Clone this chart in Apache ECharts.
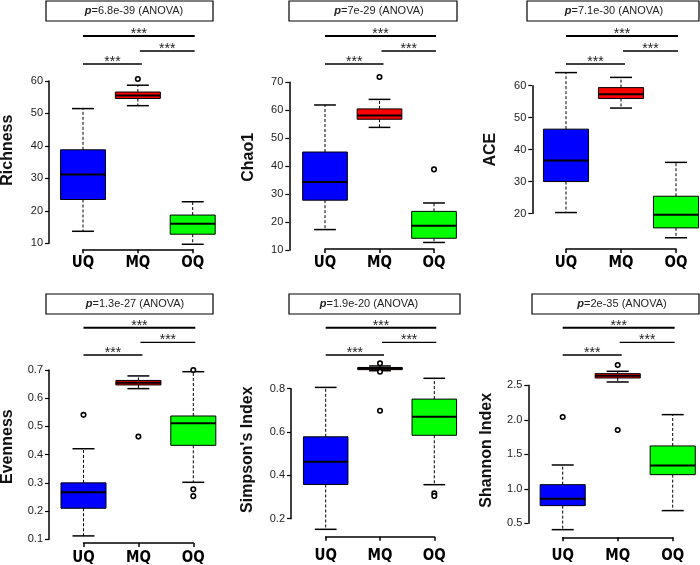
<!DOCTYPE html>
<html><head><meta charset="utf-8">
<script src="https://cdn.jsdelivr.net/npm/echarts@6/dist/echarts.min.js"></script>
<style>html,body{margin:0;padding:0;background:#fff}#c{width:700px;height:565px}</style>
</head><body><div id="c"></div>
<script>
// ---------- data ----------
const categories = ['UQ', 'MQ', 'OQ'];
const boxColors = ['#0000FF', '#FF0000', '#00FF00'];

// each box: [lower whisker, Q1, median, Q3, upper whisker] for UQ, MQ, OQ
const richnessBoxes = [[13.7, 23.5, 31.2, 38.8, 51.5], [52.4, 54.6, 55.5, 56.6, 58.7], [9.7, 12.8, 16.0, 18.7, 22.8]];
const richnessOutliers = [[], [60.6], []];
const chao1Boxes = [[17.4, 27.9, 34.4, 45.1, 61.9], [53.9, 56.8, 58.1, 60.5, 63.9], [12.8, 14.3, 18.8, 23.9, 26.9]];
const chao1Outliers = [[], [71.9], [38.9]];
const aceBoxes = [[20.3, 30.0, 36.6, 46.4, 64.1], [53.0, 56.0, 57.3, 59.4, 62.6], [12.4, 15.5, 19.6, 25.4, 36.0]];
const aceOutliers = [[], [], []];
const evennessBoxes = [[0.112, 0.210, 0.267, 0.300, 0.421], [0.634, 0.647, 0.655, 0.663, 0.679], [0.302, 0.433, 0.511, 0.537, 0.694]];
const evennessOutliers = [[0.541], [0.464], [0.700, 0.277, 0.253]];
const simpsonBoxes = [[0.151, 0.358, 0.463, 0.578, 0.806], [0.883, 0.888, 0.894, 0.898, 0.905], [0.357, 0.585, 0.671, 0.752, 0.848]];
const simpsonOutliers = [[], [0.917, 0.878, 0.698], [0.317, 0.305]];
const shannonBoxes = [[0.408, 0.756, 0.857, 1.060, 1.345], [2.548, 2.606, 2.640, 2.669, 2.703], [0.684, 1.205, 1.336, 1.621, 2.075]];
const shannonOutliers = [[2.041], [2.795, 1.853], []];

const yNames = ['Richness', 'Chao1', 'ACE', 'Evenness', "Simpson's Index", 'Shannon Index'];
const pValues = ['6.8e-39', '7e-29', '7.1e-30', '1.3e-27', '1.9e-20', '2e-35'];
const testName = 'ANOVA';
const yMins = [10, 10, 20, 0.1, 0.2, 0.5];
const yMaxs = [60, 70, 60, 0.7, 0.8, 2.5];
const yIntervals = [10, 10, 10, 0.1, 0.2, 0.5];
const yDecimals = [0, 0, 0, 1, 1, 1];
const comparisons = [[0, 1], [1, 2], [0, 2]];   // UQ–MQ, MQ–OQ, UQ–OQ
const sigLabels = ['***', '***', '***'];

const panelBoxes = [richnessBoxes, chao1Boxes, aceBoxes, evennessBoxes, simpsonBoxes, shannonBoxes];
const panelOutliers = [richnessOutliers, chao1Outliers, aceOutliers, evennessOutliers, simpsonOutliers, shannonOutliers];

// ---------- layout ----------
const layouts = [
  {grid: {left: 83, top: 81, width: 109.7, height: 162.3}, yOffset: 34, xOffset: 6, labelMargin: 6, nameGap: 33, nameShift: 12, pBox: [46, 1, 167, 20], pTextX: 134, sigY: [64, 51, 36]},
  {grid: {left: 325, top: 82.3, width: 109, height: 168}, yOffset: 35.7, xOffset: -1.3, labelMargin: 7, nameGap: 33, nameShift: 9, pBox: [289, 1, 168, 20], pTextX: 379, sigY: [64, 51, 36]},
  {grid: {left: 566, top: 85.7, width: 110, height: 127.8}, yOffset: 33.7, xOffset: 35.6, labelMargin: 7, nameGap: 34, nameShift: 0, pBox: [527, 1, 172, 20], pTextX: 614, sigY: [64, 51, 36]},
  {grid: {left: 83.5, top: 370, width: 109.8, height: 169.3}, yOffset: 34.5, xOffset: 3.7, labelMargin: 8, nameGap: 33, nameShift: 8, pBox: [46, 294, 167, 20], pTextX: 135, sigY: [355, 342.3, 327.7]},
  {grid: {left: 325.7, top: 388.7, width: 108.6, height: 130}, yOffset: 34.7, xOffset: 18, labelMargin: 12, nameGap: 35, nameShift: 4, pBox: [289, 294, 171, 20], pTextX: 369, sigY: [355, 342.3, 327.7]},
  {grid: {left: 562.7, top: 385.3, width: 110, height: 138}, yOffset: 34.4, xOffset: 14, labelMargin: 11.5, nameGap: 34, nameShift: 4, pBox: [532, 294, 167, 20], pTextX: 622, sigY: [355, 342.3, 327.7]}
];

const FONT = "'Liberation Sans', Arial, sans-serif";
const NARROW = "'Liberation Sans Narrow', 'DejaVu Sans Condensed', 'Liberation Sans', Arial, sans-serif";

function renderBox(params, api) {
  const ci = api.value(0);
  const lo = api.coord([ci, api.value(1)]);
  const q1 = api.coord([ci, api.value(2)]);
  const md = api.coord([ci, api.value(3)]);
  const q3 = api.coord([ci, api.value(4)]);
  const hi = api.coord([ci, api.value(5)]);
  const band = api.size([1, 0])[0];
  const hw = band * 0.41, cw = band * 0.2;
  const x = lo[0];
  const dash = {stroke: '#000', lineWidth: 1, lineDash: [3, 2]};
  const solid = {stroke: '#000', lineWidth: 1.5};
  return {type: 'group', children: [
    {type: 'line', shape: {x1: x, y1: q3[1], x2: x, y2: hi[1]}, style: dash},
    {type: 'line', shape: {x1: x, y1: q1[1], x2: x, y2: lo[1]}, style: dash},
    {type: 'line', shape: {x1: x - cw, y1: hi[1], x2: x + cw, y2: hi[1]}, style: solid},
    {type: 'line', shape: {x1: x - cw, y1: lo[1], x2: x + cw, y2: lo[1]}, style: solid},
    {type: 'rect', shape: {x: x - hw, y: q3[1], width: 2 * hw, height: q1[1] - q3[1]},
      style: {fill: boxColors[ci], stroke: '#000', lineWidth: 1}},
    {type: 'line', shape: {x1: x - hw, y1: md[1], x2: x + hw, y2: md[1]}, style: {stroke: '#000', lineWidth: 2}}
  ]};
}

function makeSigRenderer(sigY) {
  return function (params, api) {
    const a = api.value(0), b = api.value(1), k = api.value(2);
    const x1 = api.coord([a, 0])[0] + (k === 1 ? 2 : 0);
    const x2 = api.coord([b, 0])[0] + (k === 0 ? 4 : 2);
    const y = sigY[k];
    return {type: 'group', children: [
      {type: 'line', shape: {x1: x1, y1: y, x2: x2, y2: y}, style: {stroke: '#000', lineWidth: k === 2 ? 2 : 1.3}},
      {type: 'text', style: {text: sigLabels[k], x: (x1 + x2) / 2, y: y - 2, align: 'center', verticalAlign: 'middle',
        font: '14px ' + FONT, fill: '#222'}}
    ]};
  };
}

const grids = [], xAxes = [], yAxes = [], series = [], graphics = [];
layouts.forEach((L, i) => {
  grids.push(Object.assign({outerBoundsMode: 'none', containLabel: false}, L.grid));
  xAxes.push({
    gridIndex: i, type: 'category', data: categories, boundaryGap: false,
    position: 'bottom', offset: L.xOffset,
    axisLine: {show: true, lineStyle: {color: '#000', width: 1.5}},
    axisTick: {show: true, inside: false, length: 4, lineStyle: {color: '#000', width: 1.5}},
    axisLabel: {show: true, margin: L.labelMargin, color: '#000', fontWeight: 'bold', fontSize: 15, fontFamily: NARROW},
    splitLine: {show: false}
  });
  yAxes.push({
    gridIndex: i, type: 'value', min: yMins[i], max: yMaxs[i], interval: yIntervals[i],
    position: 'left', offset: L.yOffset,
    name: yNames[i], nameLocation: 'middle', nameGap: L.nameGap,
    nameTextStyle: {fontWeight: 'bold', fontSize: 16, color: '#111', fontFamily: FONT, padding: [0, 0, 0, 2 * L.nameShift]},
    axisLine: {show: true, lineStyle: {color: '#000', width: 1.5}},
    axisTick: {show: true, inside: false, length: 4, lineStyle: {color: '#000', width: 1.2}},
    axisLabel: {show: true, margin: 6, color: '#222', fontSize: 11, fontFamily: FONT,
      formatter: v => Number(v).toFixed(yDecimals[i])},
    splitLine: {show: false}
  });
  series.push({
    type: 'custom', xAxisIndex: i, yAxisIndex: i, clip: false, z: 2,
    renderItem: renderBox,
    encode: {x: 0, y: [1, 2, 3, 4, 5]},
    data: panelBoxes[i].map((b, ci) => [ci].concat(b))
  });
  const outs = [];
  panelOutliers[i].forEach((arr, ci) => arr.forEach(v => outs.push([ci, v])));
  series.push({
    type: 'scatter', xAxisIndex: i, yAxisIndex: i, clip: false, z: 3, silent: true,
    symbol: 'circle', symbolSize: 4.5,
    itemStyle: {color: '#fff', borderColor: '#000', borderWidth: 1.6, opacity: 1},
    data: outs
  });
  series.push({
    type: 'custom', xAxisIndex: i, yAxisIndex: i, clip: false, z: 3, silent: true,
    renderItem: makeSigRenderer(L.sigY),
    data: comparisons.map((c, k) => [c[0], c[1], k])
  });
  const [bx, by, bw, bh] = L.pBox;
  graphics.push({type: 'rect', shape: {x: bx, y: by, width: bw, height: bh},
    style: {fill: '#fff', stroke: '#000', lineWidth: 1.2}, z: 10});
  graphics.push({type: 'text', x: L.pTextX, y: by + bh / 2, z: 11,
    style: {text: '{p|p}=' + pValues[i] + ' (' + testName + ')', align: 'center', verticalAlign: 'middle',
      fontSize: 11, fontFamily: FONT, fill: '#222',
      rich: {p: {fontWeight: 'bold', fontStyle: 'italic', fontSize: 11, fontFamily: FONT, fill: '#222'}}}});
});

const chart = echarts.init(document.getElementById('c'), null, {renderer: 'canvas'});
chart.setOption({
  animation: false,
  backgroundColor: '#fff',
  grid: grids, xAxis: xAxes, yAxis: yAxes, series: series,
  graphic: graphics
});
</script></body></html>
